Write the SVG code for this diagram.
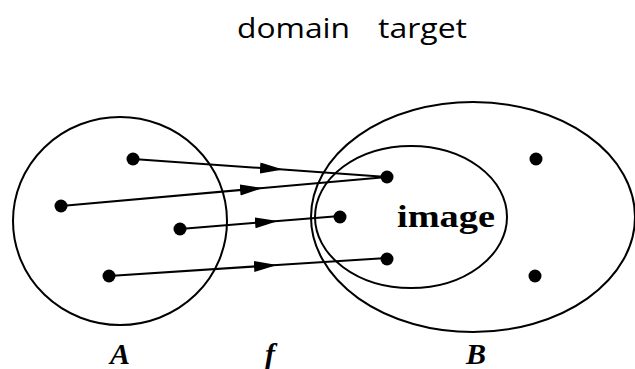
<svg xmlns="http://www.w3.org/2000/svg" width="635" height="369" viewBox="0 0 635 369">
<style>
.set{fill:none;stroke:#000;stroke-width:2}
.dot{fill:#000}
.conn{fill:none;stroke:#000;stroke-width:2;marker-mid:url(#ah)}
.lbl{font-family:"Liberation Serif",serif;font-style:italic;font-weight:bold;font-size:30px;fill:#000}
.top{font-family:"Open Sans","Noto Sans",sans-serif;font-size:28px;fill:#000}
</style>
<defs>
<marker id="ah" markerUnits="userSpaceOnUse" markerWidth="25" markerHeight="13" refX="23" refY="5.5" orient="auto">
<path d="M0,0 L23,5.5 L0,11 z" fill="#000"/>
</marker>
</defs>
<g id="title">
<text class="top" x="237" y="38" textLength="113" lengthAdjust="spacingAndGlyphs">domain</text>
<text class="top" x="378" y="38" textLength="89" lengthAdjust="spacingAndGlyphs">target</text>
</g>
<g id="A">
<ellipse class="set" cx="120" cy="221" rx="107" ry="104"/>
<circle class="dot" cx="133" cy="159" r="6.5"/>
<circle class="dot" cx="61" cy="206" r="6.5"/>
<circle class="dot" cx="180" cy="229" r="6.5"/>
<circle class="dot" cx="109" cy="276" r="6.5"/>
<text class="lbl" x="110" y="364">A</text>
</g>
<g id="B">
<ellipse class="set" cx="473" cy="217" rx="162" ry="115"/>
<circle class="dot" cx="536" cy="159" r="6.5"/>
<circle class="dot" cx="535" cy="276" r="6.5"/>
<text class="lbl" x="466" y="364">B</text>
</g>
<g id="image">
<ellipse class="set" cx="411" cy="217" rx="96" ry="71"/>
<circle class="dot" cx="387" cy="177" r="6.5"/>
<circle class="dot" cx="340" cy="217" r="6.5"/>
<circle class="dot" cx="387" cy="259" r="6.5"/>
<text x="397" y="227" font-family="Liberation Serif, serif" font-weight="bold" font-size="31" textLength="98" lengthAdjust="spacingAndGlyphs">image</text>
</g>
<g id="f">
<text class="lbl" x="265" y="364">f</text>
</g>
<g id="connectors">
<path class="conn" d="M133,159 L283,169.6 L387,177"/>
<path class="conn" d="M61,206 L263,188 L387,177"/>
<path class="conn" d="M180,229 L278,221 L340,216"/>
<path class="conn" d="M109,276 L277,265 L387,258"/>
</g>
</svg>
